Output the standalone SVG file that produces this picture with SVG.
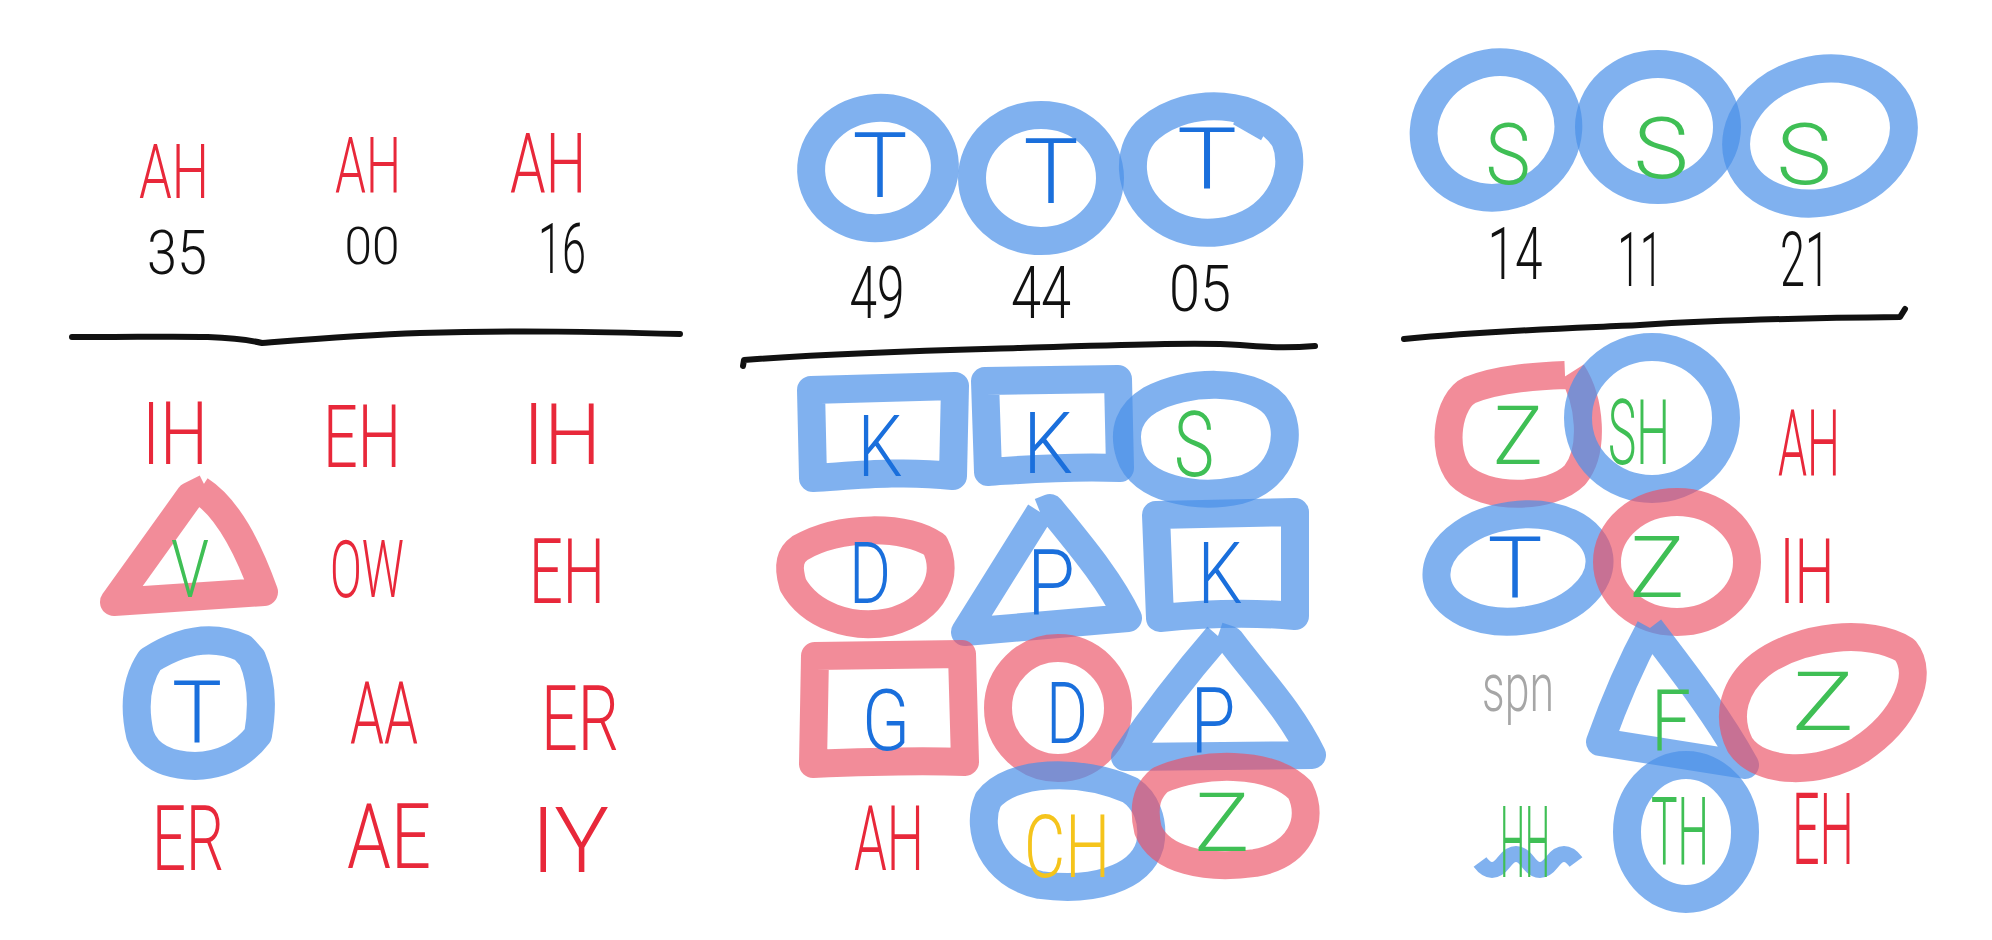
<svg xmlns="http://www.w3.org/2000/svg" width="1992" height="940" viewBox="0 0 1992 940">
<style>
.bg{fill:#ffffff}
.t{font-family:Roboto,"Liberation Sans",sans-serif;font-weight:300;text-anchor:middle}
.red{fill:#e8283a}.blue{fill:#1a6fdc}.green{fill:#3fbf55}.yel{fill:#f5c41c}.blk{fill:#111111}.gray{fill:#a6a6a6}
.mb{fill:none;stroke:#4a90e8;stroke-opacity:.7;stroke-width:28;stroke-linejoin:round}
.mr{fill:none;stroke:#ec5064;stroke-opacity:.66;stroke-width:28;stroke-linejoin:round}
.ln{fill:none;stroke:#111;stroke-width:6;stroke-linecap:round;stroke-linejoin:round}
</style>
<rect class="bg" x="0" y="0" width="1992" height="940"/>

<g id="connectors">
<path class="ln" d="M72,337 C150,338 220,333 262,343 C300,340 360,335 420,333 C520,330 600,332 680,334"/>
<path class="ln" d="M743,366 L744,360 C850,352 950,350 1020,348 C1120,345 1200,342 1240,345 C1270,348 1290,348 1315,346"/>
<path class="ln" d="M1404,339 C1500,330 1580,328 1640,325 C1720,320 1800,318 1900,317 L1905,309"/>
</g>

<!-- Left column -->
<g id="L-top">
<text class="t red" x="174" y="198" font-size="76" textLength="70" lengthAdjust="spacingAndGlyphs">AH</text>
<text class="t red" x="368" y="193" font-size="78" textLength="66" lengthAdjust="spacingAndGlyphs">AH</text>
<text class="t red" x="548" y="193" font-size="84" textLength="76" lengthAdjust="spacingAndGlyphs">AH</text>
<text class="t blk" x="177" y="274" font-size="62" textLength="60" lengthAdjust="spacingAndGlyphs">35</text>
<text class="t blk" x="372" y="264" font-size="52" textLength="55" lengthAdjust="spacingAndGlyphs">00</text>
<text class="t blk" x="562" y="273" font-size="70" textLength="48" lengthAdjust="spacingAndGlyphs">16</text>
</g>
<g id="L-r1">
<text class="t red" x="175" y="464" font-size="88" textLength="66" lengthAdjust="spacingAndGlyphs">IH</text>
<text class="t red" x="362" y="467" font-size="88" textLength="78" lengthAdjust="spacingAndGlyphs">EH</text>
<text class="t red" x="562" y="464" font-size="86" textLength="78" lengthAdjust="spacingAndGlyphs">IH</text>
</g>
<g id="L-r2">
<path class="mr" d="M200,490 C228,508 248,548 264,592 L114,602 L190,496 L206,488"/>
<text class="t green" x="190" y="597" font-size="80" textLength="38" lengthAdjust="spacingAndGlyphs">V</text>
<text class="t red" x="367" y="597" font-size="80" textLength="74" lengthAdjust="spacingAndGlyphs">OW</text>
<text class="t red" x="567" y="603" font-size="90" textLength="76" lengthAdjust="spacingAndGlyphs">EH</text>
</g>
<g id="L-r3">
<path class="mb" d="M150,660 Q200,628 243,648 L252,658 Q266,690 258,735 Q235,765 195,766 Q150,765 140,735 Q130,690 150,660 Z"/>
<text class="t blue" x="197" y="743" font-size="88" textLength="50" lengthAdjust="spacingAndGlyphs">T</text>
<text class="t red" x="384" y="743" font-size="88" textLength="68" lengthAdjust="spacingAndGlyphs">AA</text>
<text class="t red" x="580" y="750" font-size="90" textLength="78" lengthAdjust="spacingAndGlyphs">ER</text>
</g>
<g id="L-r4">
<text class="t red" x="188" y="870" font-size="90" textLength="72" lengthAdjust="spacingAndGlyphs">ER</text>
<text class="t red" x="389" y="868" font-size="90" textLength="84" lengthAdjust="spacingAndGlyphs">AE</text>
<text class="t red" x="570" y="872" font-size="90" textLength="78" lengthAdjust="spacingAndGlyphs">IY</text>
</g>

<!-- Middle column -->
<g id="M-top">
<ellipse class="mb" cx="878" cy="168" rx="67" ry="60" transform="rotate(-8 878 168)"/>
<ellipse class="mb" cx="1041" cy="178" rx="69" ry="63"/>
<path class="mb" d="M1150,128 C1190,95 1260,100 1285,140 C1300,175 1275,225 1220,232 C1170,238 1135,205 1133,170 C1132,150 1140,136 1150,128 Z M1240,112 L1268,128"/>
<text class="t blue" x="880" y="197" font-size="90" textLength="55" lengthAdjust="spacingAndGlyphs">T</text>
<text class="t blue" x="1051" y="203" font-size="90" textLength="55" lengthAdjust="spacingAndGlyphs">T</text>
<text class="t blue" x="1207" y="188" font-size="86" textLength="60" lengthAdjust="spacingAndGlyphs">T</text>
<text class="t blk" x="877" y="318" font-size="72" textLength="55" lengthAdjust="spacingAndGlyphs">49</text>
<text class="t blk" x="1041" y="318" font-size="72" textLength="60" lengthAdjust="spacingAndGlyphs">44</text>
<text class="t blk" x="1200" y="311" font-size="64" textLength="62" lengthAdjust="spacingAndGlyphs">05</text>
</g>
<g id="M-r1">
<path class="mb" d="M811,390 L955,386 L953,476 C900,470 850,476 813,478 Z"/>
<path class="mb" d="M985,381 L1118,379 L1120,468 C1060,466 1020,470 988,472 Z"/>
<path class="mb" d="M1150,400 C1185,380 1250,378 1275,405 C1295,430 1285,478 1240,490 C1195,500 1140,488 1130,455 C1122,430 1130,412 1150,400 Z"/>
<text class="t blue" x="880" y="476" font-size="86" textLength="45" lengthAdjust="spacingAndGlyphs">K</text>
<text class="t blue" x="1048" y="473" font-size="86" textLength="50" lengthAdjust="spacingAndGlyphs">K</text>
<text class="t green" x="1194" y="476" font-size="90" textLength="40" lengthAdjust="spacingAndGlyphs">S</text>
</g>
<g id="M-r2">
<path class="mr" d="M800,548 C840,525 905,525 935,545 C950,575 935,610 890,622 C850,630 810,615 793,585 C787,565 790,555 800,548 Z"/>
<path class="mb" d="M1040,512 L1050,508 C1080,545 1110,580 1128,618 L965,632 L1040,512"/>
<path class="mb" d="M1156,515 L1295,512 L1295,616 C1250,612 1200,614 1160,618 Z"/>
<text class="t blue" x="870" y="603" font-size="86" textLength="42" lengthAdjust="spacingAndGlyphs">D</text>
<text class="t blue" x="1051" y="614" font-size="90" textLength="48" lengthAdjust="spacingAndGlyphs">P</text>
<text class="t blue" x="1220" y="603" font-size="86" textLength="45" lengthAdjust="spacingAndGlyphs">K</text>
</g>
<g id="M-r3">
<path class="mr" d="M815,656 L962,654 L965,762 C910,760 860,762 813,764 Z"/>
<ellipse class="mr" cx="1058" cy="708" rx="60" ry="60"/>
<path class="mb" d="M1218,636 L1230,640 C1260,680 1290,710 1312,755 L1125,757 C1150,720 1180,680 1218,636"/>
<text class="t blue" x="886" y="750" font-size="86" textLength="48" lengthAdjust="spacingAndGlyphs">G</text>
<text class="t blue" x="1067" y="743" font-size="86" textLength="42" lengthAdjust="spacingAndGlyphs">D</text>
<text class="t blue" x="1213" y="752" font-size="90" textLength="45" lengthAdjust="spacingAndGlyphs">P</text>
</g>
<g id="M-r4">
<path class="mb" d="M1130,790 C1080,768 1010,770 988,800 C975,830 992,875 1040,885 C1090,892 1140,880 1150,845 C1155,820 1145,800 1130,790 Z"/>
<path class="mr" d="M1160,780 C1200,762 1270,760 1300,790 C1315,820 1300,855 1255,863 C1205,870 1160,860 1148,830 C1142,805 1148,790 1160,780 Z"/>
<text class="t red" x="889" y="870" font-size="90" textLength="70" lengthAdjust="spacingAndGlyphs">AH</text>
<text class="t yel" x="1067" y="877" font-size="88" textLength="86" lengthAdjust="spacingAndGlyphs">CH</text>
<text class="t green" x="1222" y="851" font-size="82" textLength="55" lengthAdjust="spacingAndGlyphs">Z</text>
</g>

<!-- Right column -->
<g id="R-top">
<ellipse class="mb" cx="1496" cy="130" rx="73" ry="67" transform="rotate(-20 1496 130)"/>
<ellipse class="mb" cx="1658" cy="127" rx="69" ry="63"/>
<ellipse class="mb" cx="1820" cy="136" rx="85" ry="66" transform="rotate(-15 1820 136)"/>
<text class="t green" x="1508" y="184" font-size="86" textLength="45" lengthAdjust="spacingAndGlyphs">S</text>
<text class="t green" x="1661" y="178" font-size="86" textLength="55" lengthAdjust="spacingAndGlyphs">S</text>
<text class="t green" x="1804" y="184" font-size="86" textLength="55" lengthAdjust="spacingAndGlyphs">S</text>
<text class="t blk" x="1515" y="279" font-size="72" textLength="55" lengthAdjust="spacingAndGlyphs">14</text>
<text class="t blk" x="1640" y="286" font-size="76" textLength="45" lengthAdjust="spacingAndGlyphs">11</text>
<text class="t blk" x="1805" y="286" font-size="76" textLength="50" lengthAdjust="spacingAndGlyphs">21</text>
</g>
<g id="R-r1">
<path class="mr" d="M1572,372 C1590,400 1595,450 1575,475 C1550,500 1485,500 1460,475 C1440,450 1448,400 1470,390 C1500,378 1540,376 1565,375"/>
<ellipse class="mb" cx="1652" cy="418" rx="74" ry="71"/>
<text class="t green" x="1518" y="464" font-size="82" textLength="50" lengthAdjust="spacingAndGlyphs">Z</text>
<text class="t green" x="1639" y="464" font-size="90" textLength="62" lengthAdjust="spacingAndGlyphs">SH</text>
<text class="t red" x="1809" y="476" font-size="92" textLength="62" lengthAdjust="spacingAndGlyphs">AH</text>
</g>
<g id="R-r2">
<ellipse class="mb" cx="1518" cy="568" rx="82" ry="53" transform="rotate(-8 1518 568)"/>
<ellipse class="mr" cx="1677" cy="562" rx="70" ry="60"/>
<text class="t blue" x="1515" y="597" font-size="86" textLength="55" lengthAdjust="spacingAndGlyphs">T</text>
<text class="t green" x="1657" y="597" font-size="86" textLength="55" lengthAdjust="spacingAndGlyphs">Z</text>
<text class="t red" x="1807" y="603" font-size="90" textLength="55" lengthAdjust="spacingAndGlyphs">IH</text>
</g>
<g id="R-r3">
<text class="t gray" x="1518" y="711" font-size="68" textLength="72" lengthAdjust="spacingAndGlyphs">spn</text>
<path class="mb" d="M1650,628 C1690,680 1720,720 1745,765 L1600,742 C1615,700 1630,665 1650,628"/>
<path class="mr" d="M1760,665 C1800,635 1870,628 1905,650 C1925,675 1905,720 1860,750 C1820,775 1760,775 1740,745 C1725,715 1735,685 1760,665 Z"/>
<text class="t green" x="1671" y="750" font-size="86" textLength="40" lengthAdjust="spacingAndGlyphs">F</text>
<text class="t green" x="1823" y="730" font-size="82" textLength="62" lengthAdjust="spacingAndGlyphs">Z</text>
</g>
<g id="R-r4">
<path class="mb" d="M1480,862 q12,16 24,0 t24,0 t24,0 t24,0" style="stroke-width:16"/>
<ellipse class="mb" cx="1686" cy="832" rx="59" ry="67"/>
<text class="t green" x="1525" y="877" font-size="100" textLength="50" lengthAdjust="spacingAndGlyphs">HH</text>
<text class="t green" x="1680" y="864" font-size="95" textLength="58" lengthAdjust="spacingAndGlyphs">TH</text>
<text class="t red" x="1823" y="864" font-size="100" textLength="62" lengthAdjust="spacingAndGlyphs">EH</text>
</g>
</svg>
